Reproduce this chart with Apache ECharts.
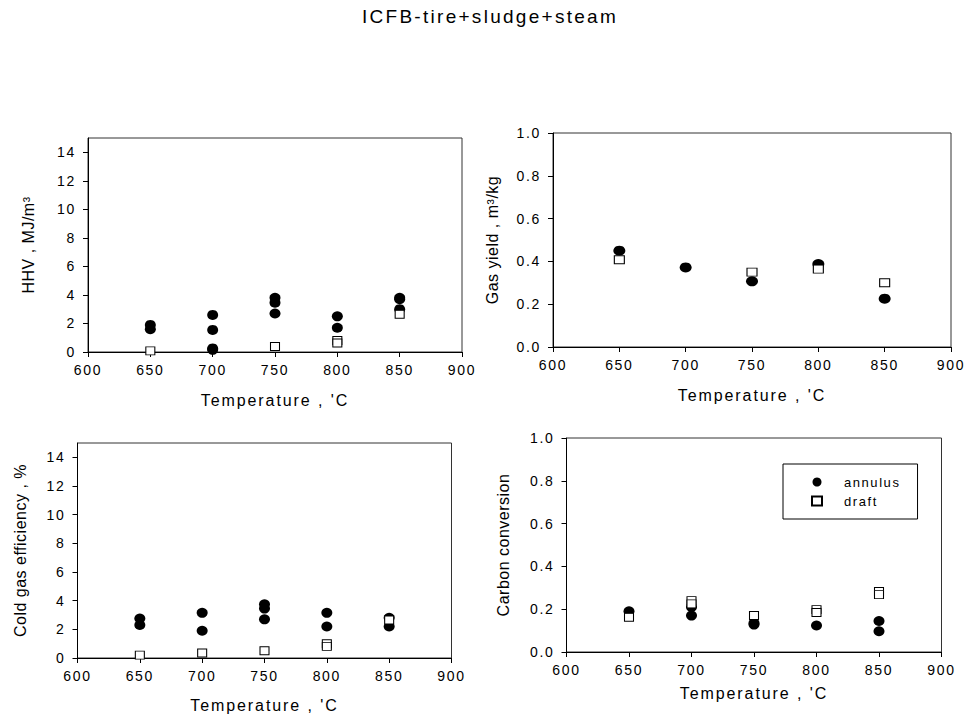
<!DOCTYPE html>
<html>
<head>
<meta charset="utf-8">
<script src="https://cdn.jsdelivr.net/npm/echarts@6/dist/echarts.min.js"></script>
<style>
html,body{margin:0;padding:0;background:#fff;}
#chart{width:966px;height:718px;}
#chart text{letter-spacing:0.12em;}
#chart text[style*="Arial"]{letter-spacing:0.5px;}
</style>
</head>
<body>
<div id="chart"></div>
<script>
// ---- data ----
const titleText = 'ICFB-tire+sludge+steam';
const xName = "Temperature , 'C";
const yNames = ['HHV , MJ/m³', 'Gas yield , m³/kg', 'Cold gas efficiency , %', 'Carbon conversion'];
const seriesNames = ['annulus', 'draft'];

const temperatureTicks = [600, 650, 700, 750, 800, 850, 900];
const pctTicks = [0, 2, 4, 6, 8, 10, 12, 14];
const fracTicks = [0, 0.2, 0.4, 0.6, 0.8, 1.0];

// HHV, MJ/m3
const hhvAnnulus = [[650,1.9],[650,1.6],[700,2.6],[700,1.55],[700,0.25],[700,0.15],[750,3.8],[750,3.45],[750,2.7],[800,2.5],[800,1.7],[850,3.8],[850,3.7],[850,3.0]];
const hhvDraft = [[650,0.08],[750,0.38],[800,0.8],[800,0.63],[850,2.65]];
// Gas yield, m3/kg
const yieldAnnulus = [[650,0.45],[700,0.372],[750,0.307],[800,0.388],[850,0.226]];
const yieldDraft = [[650,0.408],[750,0.35],[800,0.364],[850,0.30]];
// Cold gas efficiency, %
const cgeAnnulus = [[650,2.75],[650,2.3],[700,3.15],[700,1.9],[750,3.75],[750,3.45],[750,2.7],[800,3.15],[800,2.2],[850,2.8],[850,2.2]];
const cgeDraft = [[650,0.2],[700,0.35],[750,0.5],[800,1.0],[800,0.81],[850,2.65]];
// Carbon conversion
const ccAnnulus = [[650,0.19],[700,0.21],[700,0.17],[750,0.135],[750,0.128],[800,0.124],[850,0.145],[850,0.097]];
const ccDraft = [[650,0.162],[700,0.24],[700,0.225],[750,0.171],[800,0.198],[800,0.185],[850,0.283],[850,0.268]];

// ---- chart ----
const chart = echarts.init(document.getElementById('chart'), null, {renderer: 'svg'});
const FONT = "'Liberation Sans', sans-serif";
const FONT_Y = "'Liberation Sans', Arial";

const grids = [
  {left: 88, top: 138, width: 374, height: 214},
  {left: 553, top: 133, width: 398, height: 214},
  {left: 77.5, top: 443, width: 374, height: 215},
  {left: 566.5, top: 438, width: 375, height: 214}
].map(g => Object.assign({show: true, borderColor: '#333', borderWidth: 1, backgroundColor: 'transparent'}, g));

const xGaps = [40, 40, 39, 33];
const yGaps = [52, 53, 49, 55];

const xAxes = grids.map((g, i) => ({
  type: 'value', gridIndex: i, min: 600, max: 900, interval: 50,
  name: xName, nameLocation: 'middle', nameGap: xGaps[i],
  nameTextStyle: {fontSize: 16, color: '#000', fontFamily: FONT},
  axisLine: {show: true, onZero: false, lineStyle: {color: '#000', width: 1}},
  axisTick: {show: true, length: 5, lineStyle: {color: '#000'}, customValues: temperatureTicks},
  axisLabel: {fontSize: 14, color: '#000', margin: 11, fontFamily: FONT, customValues: temperatureTicks},
  splitLine: {show: false}
}));

const yAxes = grids.map((g, i) => {
  const pct = (i === 0 || i === 2);
  const ticks = pct ? pctTicks : fracTicks;
  return {
    type: 'value', gridIndex: i, min: 0, max: pct ? 15 : 1.0, interval: pct ? 2 : 0.2,
    name: yNames[i], nameLocation: 'middle', nameGap: yGaps[i], nameRotate: 90,
    nameTextStyle: {fontSize: 16, color: '#000', fontFamily: FONT_Y},
    axisLine: {show: true, onZero: false, lineStyle: {color: '#000', width: 1}},
    axisTick: {show: true, length: 5, lineStyle: {color: '#000'}, customValues: ticks},
    axisLabel: {fontSize: 14, color: '#000', margin: 12, fontFamily: FONT, customValues: ticks,
      formatter: v => pct ? String(v) : Number(v).toFixed(1)},
    splitLine: {show: false}
  };
});

function sc(name, gi, data, circle, size) {
  return {
    type: 'scatter', name, xAxisIndex: gi, yAxisIndex: gi, data,
    symbol: circle ? 'circle' : 'rect', symbolSize: size,
    itemStyle: circle ? {color: '#000', opacity: 1} : {color: '#fff', borderColor: '#000', borderWidth: 1, opacity: 1},
    emphasis: {disabled: true}, silent: true
  };
}

const series = [
  sc(seriesNames[0], 0, hhvAnnulus, true, [11, 10]),
  sc(seriesNames[1], 0, hhvDraft, false, [9, 8]),
  sc(seriesNames[0], 1, yieldAnnulus, true, [12, 10]),
  sc(seriesNames[1], 1, yieldDraft, false, [10, 8]),
  sc(seriesNames[0], 2, cgeAnnulus, true, [11, 10]),
  sc(seriesNames[1], 2, cgeDraft, false, [9, 8]),
  sc(seriesNames[0], 3, ccAnnulus, true, [11, 10]),
  sc(seriesNames[1], 3, ccDraft, false, [9, 8])
];

chart.setOption({
  animation: false,
  backgroundColor: '#fff',
  textStyle: {fontFamily: FONT, color: '#000'},
  title: {
    text: titleText, left: 490, top: 7, textAlign: 'center', padding: 0,
    textStyle: {fontSize: 19, fontWeight: 'normal', color: '#000', fontFamily: FONT}
  },
  legend: {
    data: [{name: seriesNames[0], icon: 'circle'}, {name: seriesNames[1], icon: 'rect'}],
    orient: 'vertical', left: 783, top: 464,
    padding: [11, 28, 11, 28],
    borderColor: '#000', borderWidth: 1,
    itemWidth: 10, itemHeight: 9, itemGap: 5,
    selectedMode: false,
    textStyle: {fontSize: 13, color: '#000', lineHeight: 14, padding: [0, 0, 0, 17], fontFamily: FONT}
  },
  grid: grids,
  xAxis: xAxes,
  yAxis: yAxes,
  series: series
});
</script>
</body>
</html>
